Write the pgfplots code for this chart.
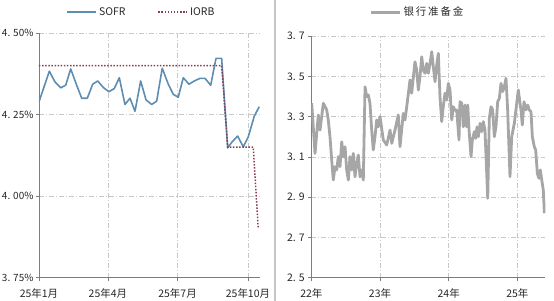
\documentclass[border=0pt]{standalone}
\usepackage{pgfplots}
\pgfplotsset{compat=1.18}
\usepackage{fontspec}
\setmainfont{Noto Sans CJK SC}
\newfontfamily\cjkwide[LetterSpace=18]{Noto Sans CJK SC}
\definecolor{sofr}{RGB}{94,141,178}
\definecolor{iorb}{RGB}{140,60,80}
\definecolor{resv}{RGB}{166,166,166}
\definecolor{gridc}{RGB}{200,200,200}
\definecolor{axisc}{RGB}{125,125,125}
\pgfplotsset{
  myaxis/.style={
    scale only axis,
    axis x line*=bottom, axis y line*=left,
    axis line style={draw=axisc, line width=0.8bp, -},
    tick style={draw=axisc, line width=0.6bp},
    tick align=outside,
    major tick length=3bp,
    grid=major,
    major grid style={draw=gridc, line width=0.6bp, dash pattern=on 5bp off 2bp on 1bp off 2bp},
    ticklabel style={font=\fontsize{10.5}{12}\selectfont, text=black!85},
    xticklabel style={yshift=-4bp},
    legend style={draw=none, fill=none, font=\fontsize{10.5}{12}\selectfont, text=black!85, anchor=center, legend columns=-1,
      /tikz/every even column/.append style={column sep=30bp}},
    legend image code/.code={\draw[#1] (0bp,0bp) -- (29bp,0bp);},
  }
}
\begin{document}
\begin{tikzpicture}
\useasboundingbox (0,0) rectangle (554bp,301bp);
\draw[gray!45, line width=1.2bp] (275bp,0bp) -- (275bp,301bp);

\begin{axis}[myaxis, at={(39bp,23.3bp)}, anchor=south west, width=221bp, height=244.7bp,
  xmin=0, xmax=288.7, ymin=3.75, ymax=4.50,
  xtick={0,90,181,273}, xticklabels={25年1月,25年4月,25年7月,25年10月},
  ytick={3.75,4.00,4.25,4.50}, yticklabels={3. 75\%,4. 00\%,4. 25\%,4. 50\%},
  yticklabel style={font=\fontsize{10}{12}\selectfont, xshift=1bp},
  legend style={at={(0.464,1)}, yshift=21bp}]
\addplot[sofr, line width=1.6bp, line join=round] coordinates {
(0,4.289) (13.5,4.383) (20.9,4.350) (28.3,4.332) (34.9,4.340) (41.4,4.390)
(49.2,4.340) (55.8,4.300) (63.1,4.300) (70.1,4.343) (76.7,4.353) (84.0,4.333)
(91.4,4.320) (98.4,4.330) (104.9,4.363) (112.3,4.281) (118.9,4.300) (125.4,4.260)
(132.8,4.353) (139.8,4.295) (147.2,4.281) (153.7,4.291) (161.0,4.392) (168.9,4.343)
(175.4,4.312) (181.9,4.303) (188.5,4.363) (195.9,4.343) (202.9,4.353) (210.3,4.361)
(216.8,4.361) (224.3,4.340) (231.2,4.422) (238.6,4.422) (246.5,4.148) (252.5,4.167)
(259.5,4.184) (266.9,4.151) (273.4,4.182) (281.2,4.245) (287.7,4.274)
};
\addlegendentry{SOFR}
\addplot[iorb, line width=1.5bp, dash pattern=on 1.5bp off 1.6bp] coordinates {
(0,4.40) (238.6,4.40) (246.5,4.15) (279.9,4.15) (286.4,3.90)
};
\addlegendentry{IORB}
\end{axis}

\begin{axis}[myaxis, at={(311.3bp,23.3bp)}, anchor=south west, width=234bp, height=241.7bp,
  xmin=0, xmax=3.406, ymin=2.5, ymax=3.7,
  xtick={0,1,2,3}, xticklabels={22年,23年,24年,25年},
  ytick={2.5,2.7,2.9,3.1,3.3,3.5,3.7}, yticklabels={2. 5,2. 7,2. 9,3. 1,3. 3,3. 5,3. 7},
  legend style={at={(0.454,1)}, yshift=23.7bp}]
\addplot[resv, line width=2.8bp, line join=round] coordinates {
(0.006,3.366) (0.054,3.117) (0.102,3.308) (0.127,3.233) (0.175,3.366) (0.224,3.333)
(0.247,3.283) (0.272,3.200) (0.297,3.084) (0.320,2.985) (0.345,3.051) (0.370,3.035)
(0.393,3.101) (0.418,3.051) (0.443,3.175) (0.466,3.101) (0.491,3.150) (0.515,3.035)
(0.539,2.985) (0.563,3.101) (0.588,3.035) (0.611,3.117) (0.636,3.001) (0.661,3.068)
(0.684,3.109) (0.709,3.001) (0.734,3.035) (0.757,2.985) (0.782,3.448) (0.806,3.399)
(0.830,3.407) (0.854,3.366) (0.879,3.233) (0.902,3.134) (0.927,3.200) (0.952,3.283)
(0.975,3.249) (1.000,3.300) (1.048,3.184) (1.098,3.159) (1.146,3.233) (1.171,3.167)
(1.218,3.233) (1.266,3.308) (1.291,3.150) (1.339,3.316) (1.364,3.283) (1.389,3.349)
(1.437,3.482) (1.461,3.416) (1.509,3.572) (1.534,3.531) (1.558,3.432) (1.582,3.498)
(1.607,3.597) (1.630,3.531) (1.655,3.515) (1.680,3.564) (1.703,3.515) (1.728,3.564)
(1.753,3.622) (1.776,3.548) (1.801,3.473) (1.826,3.556) (1.849,3.614) (1.873,3.399)
(1.898,3.275) (1.921,3.349) (1.946,3.416) (1.971,3.382) (1.994,3.465) (2.019,3.432)
(2.044,3.283) (2.067,3.349) (2.092,3.330) (2.116,3.333) (2.150,3.184) (2.164,3.374)
(2.189,3.366) (2.213,3.249) (2.238,3.357) (2.262,3.249) (2.277,3.357) (2.296,3.233)
(2.325,3.101) (2.344,3.184) (2.373,3.225) (2.393,3.192) (2.412,3.249) (2.431,3.200)
(2.456,3.266) (2.480,3.225) (2.504,3.275) (2.528,3.233) (2.568,2.894) (2.591,3.291)
(2.616,3.349) (2.640,3.333) (2.664,3.200) (2.688,3.249) (2.713,3.374) (2.737,3.391)
(2.761,3.465) (2.786,3.424) (2.809,3.448) (2.834,3.490) (2.858,3.333) (2.892,3.001)
(2.917,3.200) (2.955,3.266) (2.990,3.366) (3.013,3.432) (3.038,3.366) (3.052,3.333)
(3.071,3.258) (3.096,3.374) (3.122,3.333) (3.150,3.357) (3.173,3.333) (3.198,3.324)
(3.217,3.200) (3.246,3.150) (3.266,3.134) (3.290,3.018) (3.314,2.993) (3.333,3.035)
(3.354,2.985) (3.377,2.935) (3.392,2.820)
};
\addlegendentry{\cjkwide 银行准备金}
\end{axis}
\end{tikzpicture}
\end{document}
